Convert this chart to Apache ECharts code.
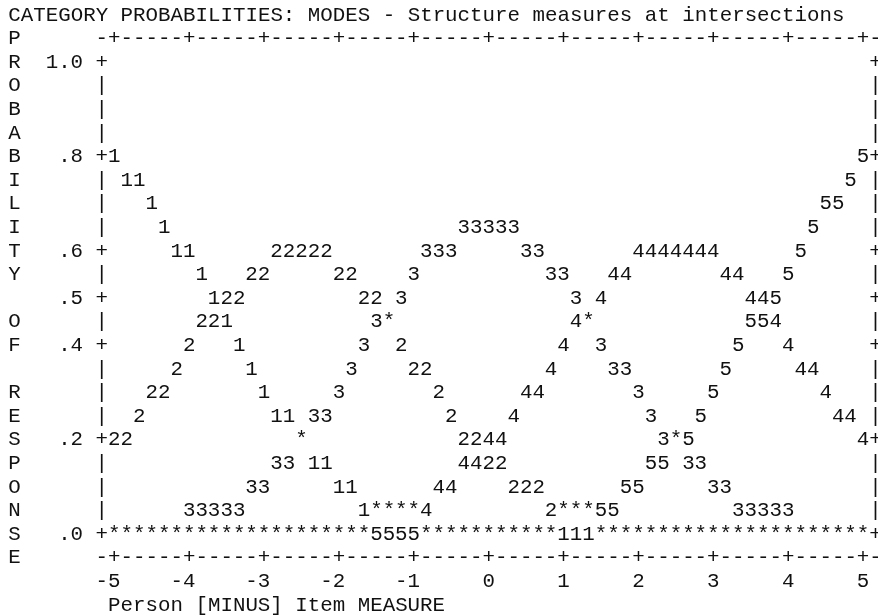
<!DOCTYPE html>
<html>
<head>
<meta charset="utf-8">
<script src="https://cdn.jsdelivr.net/npm/echarts@6/dist/echarts.min.js"></script>
<style>
html,body{margin:0;padding:0;background:#fff;}
#chart{width:878px;height:615px;}
</style>
</head>
<body>
<div id="chart"></div>
<script>
// ---- texts ----
const titleText = 'CATEGORY PROBABILITIES: MODES - Structure measures at intersections';
const yAxisWords = ['PROBABILITY', 'OF', 'RESPONSE'];
const xAxisName = 'Person [MINUS] Item MEASURE';

// ---- tick labels ----
const xTicks = [-5, -4, -3, -2, -1, 0, 1, 2, 3, 4, 5];
const yTicks = [1.0, 0.8, 0.6, 0.5, 0.4, 0.2, 0.0];
const yTickText = ['1.0', '.8', '.6', '.5', '.4', '.2', '.0'];

// ---- measure positions (one per plotted column) ----
const measures = [
  -5, -4.833, -4.667, -4.5, -4.333, -4.167, -4, -3.833, -3.667, -3.5, -3.333, -3.167,
  -3, -2.833, -2.667, -2.5, -2.333, -2.167, -2, -1.833, -1.667, -1.5, -1.333, -1.167,
  -1, -0.833, -0.667, -0.5, -0.333, -0.167, 0, 0.167, 0.333, 0.5, 0.667, 0.833,
  1, 1.167, 1.333, 1.5, 1.667, 1.833, 2, 2.167, 2.333, 2.5, 2.667, 2.833,
  3, 3.167, 3.333, 3.5, 3.667, 3.833, 4, 4.167, 4.333, 4.5, 4.667, 4.833, 5
];

// ---- category probabilities ----
const cat1 = [
  .80,.75,.75,.70,.65,.60,.60,.55,.50,.45,.40,.35,.30,.25,.25,.20,.15,.15,.10,.10,
  .05,.05,.05,.05,.05,0,0,0,0,0,0,0,0,0,0,0,0,0,0,0,
  0,0,0,0,0,0,0,0,0,0,0,0,0,0,0,0,0,0,0,0,0
];
const cat2 = [
  .20,.20,.25,.30,.30,.35,.40,.45,.45,.50,.50,.55,.55,.60,.60,.60,.60,.60,.55,.55,
  .50,.50,.45,.40,.35,.35,.30,.25,.20,.20,.15,.15,.10,.10,.10,.05,.05,.05,.05,0,
  0,0,0,0,0,0,0,0,0,0,0,0,0,0,0,0,0,0,0,0,0
];
const cat3 = [
  0,0,0,0,0,0,.05,.05,.05,.05,.05,.10,.10,.15,.15,.20,.25,.25,.30,.35,
  .40,.45,.45,.50,.55,.60,.60,.60,.65,.65,.65,.65,.65,.60,.60,.55,.55,.50,.45,.40,
  .35,.35,.30,.25,.20,.20,.15,.15,.10,.10,.05,.05,.05,.05,.05,0,0,0,0,0,0
];
const cat4 = [
  0,0,0,0,0,0,0,0,0,0,0,0,0,0,0,0,0,0,0,0,
  0,.05,.05,.05,.05,.05,.10,.10,.15,.15,.20,.20,.25,.30,.30,.35,.40,.45,.45,.50,
  .55,.55,.60,.60,.60,.60,.60,.60,.60,.55,.55,.50,.50,.45,.40,.35,.35,.30,.25,.25,.20
];
const cat5 = [
  0,0,0,0,0,0,0,0,0,0,0,0,0,0,0,0,0,0,0,0,
  0,0,0,0,0,0,0,0,0,0,0,0,0,0,0,0,.05,.05,.05,.05,
  .05,.10,.10,.15,.15,.20,.20,.25,.30,.35,.40,.45,.45,.50,.55,.60,.65,.70,.70,.75,.80
];
const categoryNames = ['1', '2', '3', '4', '5'];

// ---- styling ----
const FONT_FAMILY = '"Liberation Mono", "Courier New", monospace';
const FS = 20.8;
const LH = 23.6;
const INK = '#111';
const ROW = 0.05;
const GLYPHS = ['1', '2', '3', '4', '5', '*', '+', '|', '-'];

// ---- build glyph cells (one text per plotted cell; shared cells become '*') ----
const cats = [cat1, cat2, cat3, cat4, cat5];
const cellMap = new Map();
cats.forEach((arr, ci) => {
  arr.forEach((p, i) => {
    const key = i + '|' + Math.round(p / ROW);
    if (!cellMap.has(key)) cellMap.set(key, { x: measures[i], y: p, owners: [] });
    cellMap.get(key).owners.push(ci);
  });
});
const perCat = cats.map(() => []);
const shared = [];
cellMap.forEach(c => {
  if (c.owners.length > 1) shared.push([c.x, c.y, 5]);
  else perCat[c.owners[0]].push([c.x, c.y, c.owners[0]]);
});

// ---- plot frame drawn as text glyphs in data space ----
const n = measures.length;
const step = (measures[n - 1] - measures[0]) / (n - 1);
const xL = measures[0] - step, xR = measures[n - 1] + step;
const isYTick = y => yTicks.some(t => Math.abs(t - y) < 1e-6);
const isXTick = x => xTicks.some(t => Math.abs(t - x) < 1e-3);
const frame = [];
for (let k = 0; k <= Math.round(1 / ROW); k++) {
  const y = 1 - k * ROW;
  const g = isYTick(y) ? 6 : 7;
  frame.push([xL, y, g], [xR, y, g]);
}
[1 + ROW, -ROW].forEach(yy => {
  for (let c = -1; c <= n; c++) {
    const x = measures[0] + c * step;
    frame.push([x, yy, isXTick(x) ? 6 : 8]);
  }
});

function renderGlyph(params, api) {
  const p = api.coord([api.value(0), api.value(1)]);
  return {
    type: 'text',
    x: p[0],
    y: p[1],
    style: {
      text: GLYPHS[api.value(2)],
      fontFamily: FONT_FAMILY,
      fontSize: FS,
      fill: INK,
      align: 'center',
      verticalAlign: 'middle'
    }
  };
}
function glyphSeries(name, data) {
  return {
    type: 'custom',
    name: name,
    coordinateSystem: 'cartesian2d',
    renderItem: renderGlyph,
    encode: { x: 0, y: 1 },
    data: data,
    clip: false,
    silent: true
  };
}

const yName = yAxisWords.map(w => w.split('').join('\n')).join('\n\n');

const chart = echarts.init(document.getElementById('chart'), null, { renderer: 'canvas' });
chart.setOption({
  animation: false,
  backgroundColor: '#fff',
  textStyle: { fontFamily: FONT_FAMILY },
  title: [
    {
      text: titleText,
      left: 8.3, top: 3.2, padding: 0,
      textStyle: { fontFamily: FONT_FAMILY, fontSize: FS, fontWeight: 'normal', color: INK, lineHeight: LH }
    },
    {
      text: xAxisName,
      left: 108.1, top: 593.2, padding: 0,
      textStyle: { fontFamily: FONT_FAMILY, fontSize: FS, fontWeight: 'normal', color: INK, lineHeight: LH }
    }
  ],
  grid: { left: 114.3, right: 14.9, top: 62.2, bottom: 80.8, containLabel: false },
  xAxis: {
    type: 'value',
    min: -5, max: 5, interval: 1,
    axisLine: { show: false },
    axisTick: { show: false },
    splitLine: { show: false },
    axisLabel: {
      margin: 47.2,
      verticalAlign: 'middle',
      align: 'center',
      fontFamily: FONT_FAMILY, fontSize: FS, color: INK,
      formatter: v => (v < 0 ? String(v) + ' ' : String(v))
    }
  },
  yAxis: {
    type: 'value',
    min: 0, max: 1, interval: 0.1,
    name: yName,
    nameLocation: 'middle',
    nameRotate: 0,
    nameGap: 99.8,
    nameTextStyle: {
      fontFamily: FONT_FAMILY, fontSize: FS, color: INK, lineHeight: LH,
      align: 'center', verticalAlign: 'middle'
    },
    axisLine: { show: false },
    axisTick: { show: false },
    splitLine: { show: false },
    axisLabel: {
      margin: 31.2,
      align: 'right',
      verticalAlign: 'middle',
      fontFamily: FONT_FAMILY, fontSize: FS, color: INK,
      formatter: v => {
        const i = yTicks.findIndex(t => Math.abs(t - v) < 1e-6);
        return i >= 0 ? yTickText[i] : '';
      }
    }
  },
  series: [
    glyphSeries('frame', frame),
    ...categoryNames.map((nm, i) => glyphSeries(nm, perCat[i])),
    glyphSeries('*', shared)
  ]
});
</script>
</body>
</html>
